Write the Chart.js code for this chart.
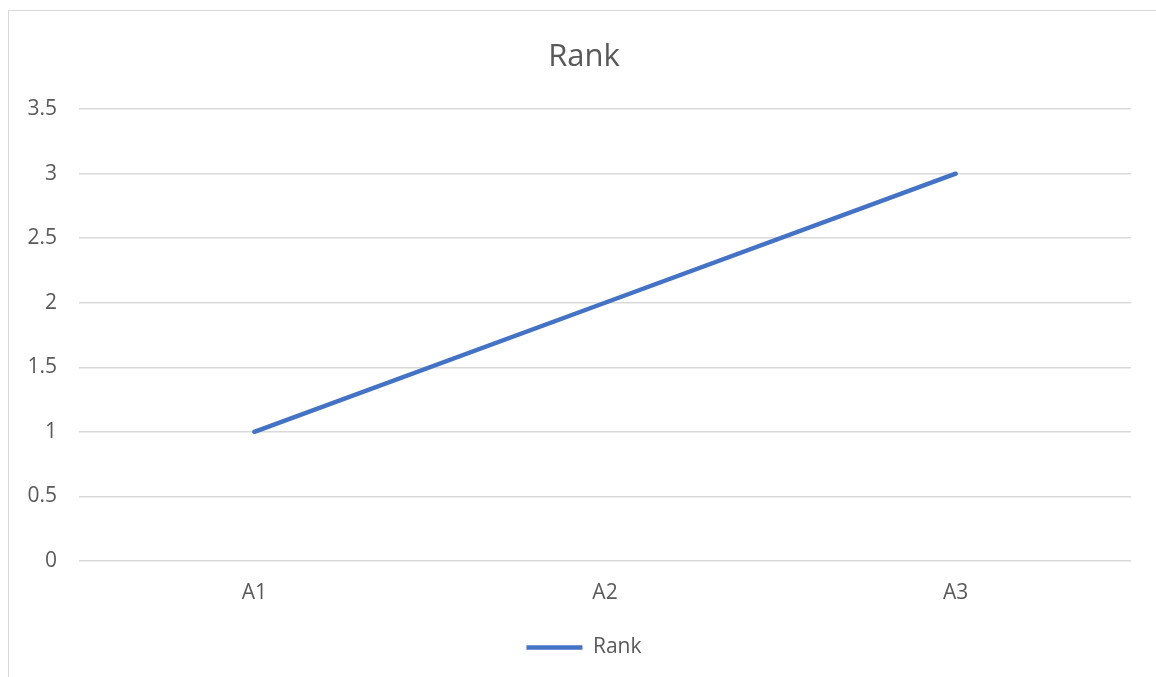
<!DOCTYPE html>
<html>
<head>
<meta charset="utf-8">
<script src="https://cdn.jsdelivr.net/npm/chart.js@4/dist/chart.umd.min.js"></script>
<style>
  html, body { margin: 0; padding: 0; background: #fff; overflow: hidden; }
  #frame { position: absolute; left: 8px; top: 10px; width: 1151px; height: 700px; border: 1px solid #d9d9d9; }
  #wrap { position: absolute; left: 0; top: 0; width: 1168px; height: 677px; }
</style>
</head>
<body>
<div id="frame"></div>
<div id="wrap"><canvas id="chart"></canvas></div>
<script>
// chart data
const categories = ['A1', 'A2', 'A3'];
const rankValues = [1, 2, 3];
const seriesName = 'Rank';
const yMin = 0, yMax = 3.5, yStep = 0.5;

const textColor = '#595959';
const gridColor = '#d9d9d9';
const fontFamily = '"Open Sans", "Liberation Sans", sans-serif';

// centre title and legend on the outer frame rather than the plot
const centreOnFrame = {
    id: 'centreOnFrame',
    afterLayout(chart) {
        [chart.titleBlock, chart.legend].forEach(b => {
            if (b) { b.left = 37; b.right = chart.width - 37; }
        });
    }
};

new Chart(document.getElementById('chart'), {
    type: 'line',
    data: {
        labels: categories,
        datasets: [{
            label: seriesName,
            data: rankValues,
            borderColor: '#4472C4',
            backgroundColor: '#4472C4',
            borderWidth: 4.5,
            borderCapStyle: 'round',
            pointRadius: 0,
            tension: 0,
            fill: false
        }]
    },
    options: {
        responsive: true,
        maintainAspectRatio: false,
        animation: false,
        layout: { padding: { left: 0, right: 37, top: 0, bottom: 9 } },
        plugins: {
            title: {
                display: true,
                text: 'Rank',
                color: textColor,
                font: { family: fontFamily, size: 31, weight: 'normal' },
                padding: { top: 39, bottom: 33 }
            },
            legend: {
                position: 'bottom',
                labels: {
                    color: textColor,
                    font: { family: fontFamily, size: 21 },
                    usePointStyle: true,
                    pointStyle: 'line',
                    pointStyleWidth: 56,
                    boxWidth: 56,
                    padding: 11
                }
            },
            tooltip: { enabled: false }
        },
        scales: {
            x: {
                offset: true,
                grid: { display: false, drawTicks: false },
                border: { display: false },
                ticks: {
                    color: textColor,
                    font: { family: fontFamily, size: 21 },
                    padding: 20,
                    maxRotation: 0
                }
            },
            y: {
                min: yMin,
                max: yMax,
                grid: { color: gridColor, lineWidth: 1.5, drawTicks: false },
                border: { display: false },
                ticks: {
                    stepSize: yStep,
                    color: textColor,
                    font: { family: fontFamily, size: 21 },
                    padding: 22,
                    callback: (v) => String(v)
                },
                afterFit(scale) { scale.width = 79; }
            }
        }
    },
    plugins: [centreOnFrame]
});
</script>
</body>
</html>
